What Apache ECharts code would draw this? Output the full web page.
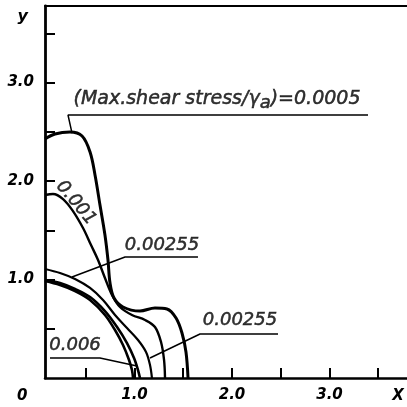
<!DOCTYPE html>
<html><head><meta charset="utf-8">
<script src="https://cdn.jsdelivr.net/npm/echarts@6/dist/echarts.min.js"></script>
<style>html,body{margin:0;padding:0;background:#fff}#c{width:407px;height:407px}</style>
</head><body><div id="c"></div>
<script>
// axis ticks / labels
const xTicks = [0.5, 1.0, 1.5, 2.0, 2.5, 3.0, 3.5];
const xLabels = [1.0, 2.0, 3.0];
const yTicks = [0.5, 1.0, 1.5, 2.0, 2.5, 3.0, 3.5];
const yLabels = [1.0, 2.0, 3.0];

// contour curves (x, y)
const c0005 = [[0.082,2.426],[0.185,2.477],[0.338,2.497],[0.462,2.457],[0.544,2.294],[0.595,2.061],[0.646,1.756],[0.697,1.452],[0.728,1.198],[0.749,0.964],[0.790,0.812],[0.882,0.721],[1.056,0.680],[1.210,0.711],[1.333,0.701],[1.426,0.609],[1.487,0.457],[1.528,0.264],[1.549,0]];
const c001 = [[0.082,1.858],[0.164,1.868],[0.267,1.817],[0.369,1.695],[0.472,1.523],[0.554,1.350],[0.626,1.198],[0.697,1.015],[0.769,0.843],[0.851,0.721],[0.974,0.640],[1.108,0.589],[1.210,0.518],[1.272,0.365],[1.303,0.183],[1.313,0]];
const c00255 = [[0.082,1.107],[0.236,1.066],[0.390,1.005],[0.544,0.914],[0.677,0.792],[0.800,0.640],[0.923,0.508],[1.036,0.386],[1.118,0.264],[1.159,0.132],[1.179,0]];
const c004 = [[0.082,0.995],[0.236,0.964],[0.390,0.904],[0.544,0.822],[0.697,0.680],[0.821,0.518],[0.923,0.355],[0.995,0.203],[1.036,0.081],[1.056,0]];
const c006 = [[0.082,0.985],[0.236,0.944],[0.390,0.883],[0.544,0.792],[0.697,0.640],[0.800,0.487],[0.882,0.335],[0.944,0.183],[0.974,0.081],[0.985,0]];

// leader lines
const leadTop = [[0.359,2.487],[0.318,2.670],[3.395,2.670]];
const leadUp255 = [[0.359,1.025],[0.903,1.228],[1.651,1.228]];
const leadLow255 = [[1.159,0.203],[1.672,0.447],[2.472,0.447]];
const lead006 = [[0.133,0.203],[0.646,0.203],[1.026,0.122]];

// label texts and positions
const labelTexts = ['(Max.shear stress/γ{s|a})=0.0005', '0.001', '0.00255', '0.00255', '0.006'];
const labelPos = [[1.846,2.832],[0.400,1.777],[1.282,1.350],[2.082,0.589],[0.390,0.335]];
const labelRot = [0, -50, 0, 0, 0];
const labelSize = [19, 18, 18, 18, 18];

const tickFont = {fontFamily:'DejaVu Sans', fontStyle:'italic', fontWeight:'bold', fontSize:15, color:'#000'};

function curve(data, w){
  return {type:'line', data:data, showSymbol:false, smooth:0.35, silent:true,
    lineStyle:{color:'#000', width:w}, z:3};
}
function lead(data){
  return {type:'line', data:data, showSymbol:false, smooth:false, silent:true,
    lineStyle:{color:'#000', width:1.5}, z:2};
}

const chart = echarts.init(document.getElementById('c'));
chart.setOption({
  backgroundColor:'#fff',
  animation:false,
  grid:{left:45, right:0, top:6, bottom:29},
  xAxis:[{
    type:'value', min:0.082, max:3.795,
    name:'X', nameLocation:'end', nameGap:-9,
    nameTextStyle:Object.assign({}, tickFont, {align:'center', verticalAlign:'top', padding:[11,0,0,0]}),
    axisLine:{show:true, lineStyle:{color:'#000', width:2.5}},
    axisTick:{show:true, inside:true, length:10, customValues:xTicks, lineStyle:{color:'#000', width:2}},
    axisLabel:Object.assign({show:true, margin:10, customValues:xLabels, formatter:v=>v.toFixed(1)}, tickFont),
    splitLine:{show:false}
  },{
    type:'value', position:'top', min:0.082, max:3.795,
    axisLine:{show:true, lineStyle:{color:'#000', width:2.2}},
    axisTick:{show:false}, axisLabel:{show:false}, splitLine:{show:false}
  }],
  yAxis:{
    type:'value', min:0, max:3.777,
    name:'y', nameLocation:'end', nameGap:-11,
    nameTextStyle:Object.assign({}, tickFont, {fontSize:16, align:'right', verticalAlign:'middle', padding:[0,17,0,0]}),
    axisLine:{show:true, lineStyle:{color:'#000', width:2.8}},
    axisTick:{show:true, inside:true, length:10, customValues:yTicks, lineStyle:{color:'#000', width:2}},
    axisLabel:Object.assign({show:true, margin:11, customValues:yLabels, formatter:v=>v.toFixed(1)}, tickFont),
    splitLine:{show:false}
  },
  graphic:[{type:'text', left:17, top:389, style:{text:'0', font:'italic bold 15px "DejaVu Sans"', fill:'#000'}}],
  series:[
    curve(c0005, 3), curve(c001, 2.4), curve(c00255, 2.2), curve(c004, 2.6), curve(c006, 2.6),
    lead(leadTop), lead(leadUp255), lead(leadLow255), lead(lead006),
    {type:'scatter', symbolSize:0, silent:true, z:4,
      data: labelPos.map((p,i)=>({value:p, label:{rotate:labelRot[i], fontSize:labelSize[i]}})),
      label:{show:true, position:'inside', color:'#000', fontFamily:'DejaVu Sans', fontStyle:'italic',
        textBorderColor:'#000', textBorderWidth:0.5,
        formatter:p=>labelTexts[p.dataIndex],
        rich:{s:{fontFamily:'DejaVu Sans', fontStyle:'italic', fontSize:18, color:'#000',
          textBorderColor:'#000', textBorderWidth:0.5, padding:[8,0,0,0]}}}
    }
  ]
});
</script></body></html>
